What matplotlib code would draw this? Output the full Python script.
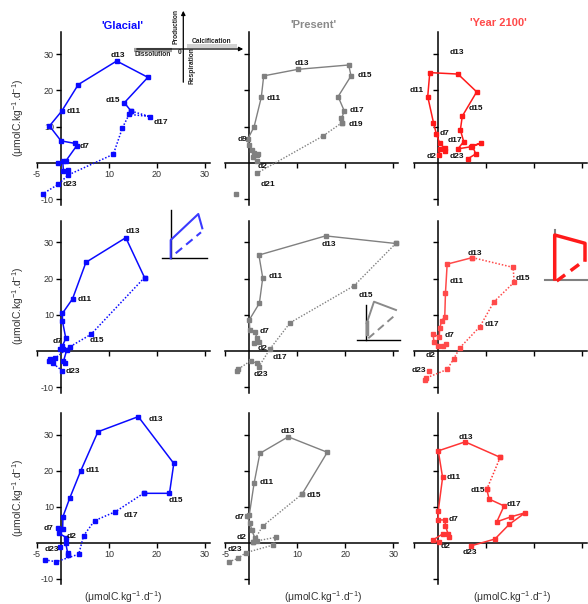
import matplotlib
matplotlib.use('Agg')
import matplotlib.pyplot as plt

plt.rcParams['font.family'] = ['Liberation Sans', 'DejaVu Sans']
plt.rcParams['mathtext.fontset'] = 'custom'
plt.rcParams['mathtext.rm'] = 'Liberation Sans'
plt.rcParams['mathtext.it'] = 'Liberation Sans:italic'
plt.rcParams['mathtext.bf'] = 'Liberation Sans:bold'
plt.rcParams['axes.unicode_minus'] = False

# ---- data (x = calcification, y = production) ----
scenarios = ["'Glacial'", "'Present'", "'Year 2100'"]

# Glacial
glacial_1_solid = [(1.5, -1.9), (0.5, -2.1), (0.35, 0.55), (-0.6, -0.1), (1.0, 0.55), (3.3, 4.8), (2.9, 5.4),
                   (0.0, 6.1), (-2.4, 10.2), (0.15, 14.3), (3.6, 21.6), (11.6, 28.1), (18.1, 23.6),
                   (13.2, 16.6), (14.6, 14.3)]
glacial_1_dotted = [(14.6, 14.3), (18.5, 12.8), (14.2, 13.4), (12.8, 9.7), (10.9, 2.4), (1.5, -3.3),
                    (-0.6, -5.9), (-3.8, -8.5)]
glacial_1_labels = [('d13', 11.9, 29.5), ('d11', 2.6, 14.3), ('d15', 10.9, 17.2), ('d17', 20.8, 11.1),
                    ('d7', 5.0, 4.5), ('d23', 1.9, -5.8)]

glacial_2_solid = [(0.8, -3.4), (0.5, -2.9), (1.2, 0.3), (0.5, 0.5), (-0.2, 0.5), (0.3, 1.4), (1.0, 3.5),
                   (0.3, 8.3), (0.3, 10.4), (2.4, 14.4), (5.2, 24.5), (13.5, 31.3), (17.4, 20.3)]
glacial_2_dotted = [(17.4, 20.3), (6.25, 4.6), (1.9, 1.2), (-1.25, -2.0), (-2.3, -2.3), (-2.6, -2.9),
                    (-1.7, -3.4), (0.3, -5.5)]
glacial_2_labels = [('d13', 14.9, 33.0), ('d11', 5.0, 14.1), ('d15', 7.4, 2.8), ('d7', -0.8, 2.6),
                    ('d23', 2.4, -5.7)]

glacial_3_solid = [(1.5, -3.3), (1.4, -2.9), (1.0, -0.1), (1.1, 1.5), (-0.4, 2.7), (-0.6, 4.1), (0.35, 3.8),
                   (0.4, 7.3), (1.8, 12.4), (4.1, 20.0), (7.7, 30.9), (16.1, 35.1), (23.5, 22.1),
                   (22.6, 13.8), (17.2, 13.8)]
glacial_3_dotted = [(17.2, 13.8), (11.35, 8.7), (7.0, 6.2), (4.7, 2.0), (3.7, -3.1), (-1.0, -5.2),
                    (-3.3, -4.7)]
glacial_3_extra = [(-0.2, -1.0)]
glacial_3_labels = [('d13', 19.7, 34.4), ('d11', 6.6, 20.0), ('d15', 23.9, 11.7), ('d17', 14.5, 7.6),
                    ('d7', -2.6, 4.1), ('d2', 2.3, 1.9), ('d23', -1.9, -1.8)]

# Present
present_1_solid = [(1.5, 0.55), (0.8, 1.7), (1.6, 2.2), (1.0, 2.7), (1.75, 2.5), (0.55, 3.6), (-0.1, 5.0),
                   (-0.35, 6.5), (1.0, 10.0), (2.5, 18.1), (3.0, 24.0), (10.1, 25.8), (20.7, 27.0),
                   (21.2, 24.0), (18.5, 18.3), (19.8, 14.3), (19.2, 12.3), (19.3, 11.1)]
present_1_dotted = [(19.3, 11.1), (15.3, 7.4), (1.6, -2.8)]
present_1_extra = [(-2.8, -8.6)]
present_1_labels = [('d13', 11.0, 27.5), ('d15', 24.0, 24.1), ('d11', 5.1, 17.8), ('d17', 22.4, 14.6),
                    ('d19', 22.1, 10.5), ('d9', -1.5, 6.5), ('d2', 2.85, -1.0), ('d21', 3.8, -5.8)]

present_2_solid = [(1.0, 2.1), (2.1, 2.6), (1.6, 3.5), (1.2, 5.3), (0.1, 5.8), (0.0, 8.6), (2.1, 13.2),
                   (2.8, 20.2), (2.0, 26.5), (15.9, 31.8), (30.5, 29.7)]
present_2_dotted = [(30.5, 29.7), (21.8, 18.0), (8.5, 7.8), (4.3, 0.55), (2.0, -4.3), (1.6, -3.4),
                    (0.3, -2.7), (-2.3, -5.0), (-2.5, -5.5)]
present_2_labels = [('d13', 16.5, 29.5), ('d11', 5.4, 20.5), ('d15', 24.2, 15.2), ('d7', 3.2, 5.5),
                    ('d2', 2.85, 0.7), ('d17', 6.3, -1.8), ('d23', 2.5, -6.4)]

present_3_solid = [(1.5, 0.65), (0.85, 0.4), (1.2, 1.3), (0.5, 3.6), (0.15, 5.5), (-0.5, 7.5), (0.0, 7.8),
                   (1.0, 16.6), (2.2, 24.9), (8.1, 29.5), (16.25, 25.2), (11.0, 13.6)]
present_3_dotted = [(11.0, 13.6), (2.8, 4.7), (0.85, 0.4), (5.6, 1.6), (5.0, -0.55), (-0.75, -2.7),
                    (-2.4, -4.3), (-4.2, -5.2)]
present_3_labels = [('d13', 8.1, 31.1), ('d11', 3.6, 16.9), ('d15', 13.5, 13.2), ('d7', -2.1, 7.1),
                    ('d2', -1.6, 1.5), ('d23', -3.0, -1.75)]

# Year 2100
future_1_solid = [(0.3, 2.2), (0.4, 3.8), (1.6, 3.4), (1.5, 4.0), (0.4, 5.4), (-0.3, 8.0), (-0.9, 11.1),
                  (-2.1, 18.3), (-1.67, 24.9), (4.2, 24.5), (8.1, 19.6), (5.1, 12.9), (4.7, 9.1),
                  (5.4, 5.9), (4.2, 3.9), (7.0, 4.5), (8.9, 5.4), (7.2, 4.8), (7.9, 2.5), (6.3, 1.2)]
future_1_labels = [('d13', 3.9, 30.5), ('d11', -4.4, 20.1), ('d15', 7.9, 15.0), ('d7', 1.5, 8.0),
                   ('d17', 3.5, 6.3), ('d2', -1.2, 1.9), ('d23', 3.9, 1.9)]

future_2_solid = [(1.8, 1.8), (1.0, 1.5), (0.1, 1.5), (-0.8, 2.6), (-1.0, 4.6), (0.3, 4.0), (0.4, 6.4),
                  (0.8, 8.3), (1.45, 9.5), (1.6, 16.1), (1.95, 24.0), (7.2, 25.8)]
future_2_dotted = [(7.2, 25.8), (15.7, 23.1), (15.9, 19.0), (11.7, 13.6), (8.75, 6.7), (4.6, 0.9),
                   (3.3, -2.2), (1.95, -5.1), (-2.5, -7.5), (-2.7, -8.0)]
future_2_extra = [(-1.9, -5.5)]
future_2_labels = [('d13', 7.7, 27.0), ('d11', 3.9, 19.1), ('d15', 17.8, 19.9), ('d17', 11.2, 7.4),
                   ('d7', 2.4, 4.4), ('d2', -1.5, -1.3), ('d23', -3.9, -5.5)]

future_3_solid = [(0.35, 0.2), (-1.05, 0.8), (1.0, 2.5), (2.35, 1.75), (2.15, 2.5), (1.6, 4.7), (1.5, 6.4),
                  (0.1, 6.4), (0.1, 9.0), (1.0, 18.2), (0.1, 25.6), (5.7, 28.1), (13.0, 23.8)]
future_3_dotted = [(13.0, 23.8), (10.2, 14.9)]
future_3_solid2 = [(10.2, 14.9), (10.7, 12.2), (13.8, 10.3), (12.3, 5.9), (15.3, 7.3), (18.2, 8.4),
                   (14.9, 5.2), (11.9, 1.1), (6.9, -0.8)]
future_3_labels = [('d13', 5.9, 29.2), ('d11', 3.4, 18.2), ('d15', 8.25, 14.7), ('d17', 15.75, 10.75),
                   ('d7', 3.3, 6.4), ('d2', 1.7, -1.0), ('d23', 6.7, -2.6)]

x_ticks = [-5, 10, 20, 30]
y_ticks = [-10, 10, 20, 30]
unit_label = r'($\mathregular{\mu}$molC.kg$^{\mathregular{-1}}$.d$^{\mathregular{-1}}$)'

# panel table: (row, col, colour, solid lines, dotted lines, loose points, labels)
panels = [
    (0, 0, '#0a0aff', [glacial_1_solid], [glacial_1_dotted], [], glacial_1_labels),
    (1, 0, '#0a0aff', [glacial_2_solid], [glacial_2_dotted], [], glacial_2_labels),
    (2, 0, '#0a0aff', [glacial_3_solid], [glacial_3_dotted], glacial_3_extra, glacial_3_labels),
    (0, 1, '#808080', [present_1_solid], [present_1_dotted], present_1_extra, present_1_labels),
    (1, 1, '#808080', [present_2_solid], [present_2_dotted], [], present_2_labels),
    (2, 1, '#808080', [present_3_solid], [present_3_dotted], [], present_3_labels),
    (0, 2, '#ff1a1a', [future_1_solid], [], [], future_1_labels),
    (1, 2, '#ff4a4a', [future_2_solid], [future_2_dotted], future_2_extra, future_2_labels),
    (2, 2, '#ff3535', [future_3_solid, future_3_solid2], [future_3_dotted], [], future_3_labels),
]

# ---- layout (pixels) ----
W, H = 588, 604
col_x0 = [61, 249.3, 437.8]      # pixel x of the y axis in each column
row_y0 = [163, 351, 543]         # pixel y of the x axis in each row
row_sy = [3.63, 3.62, 3.6]       # pixels per unit in y
SX = 4.8                         # pixels per unit in x
XLIM = (-5.6, 31.5)
YLIM = (-12.5, 37)

fig = plt.figure(figsize=(W / 100, H / 100), dpi=100)

for row, col, color, solids, dotteds, extras, labels in panels:
    sy = row_sy[row]
    left = col_x0[col] + XLIM[0] * SX
    width = (XLIM[1] - XLIM[0]) * SX
    top = row_y0[row] - YLIM[1] * sy
    height = (YLIM[1] - YLIM[0]) * sy
    ax = fig.add_axes([left / W, 1 - (top + height) / H, width / W, height / H])
    ax.set_xlim(XLIM)
    ax.set_ylim(YLIM)
    ax.patch.set_alpha(0)
    for s in ['top', 'right']:
        ax.spines[s].set_visible(False)
    ax.spines['left'].set_position(('data', 0))
    ax.spines['bottom'].set_position(('data', 0))
    ax.spines['left'].set_bounds(-11.5, 36)
    ax.spines['bottom'].set_bounds(-5, 31)
    for s in ['left', 'bottom']:
        ax.spines[s].set_linewidth(1.1)
    ax.set_xticks(x_ticks)
    ax.set_yticks(y_ticks)
    ax.tick_params(direction='out', length=3.5, width=1, pad=1.5, labelsize=6.5, labelcolor='#333333')
    show_x = (row == 0 and col == 0) or (row == 2 and col < 2)
    if not show_x:
        ax.set_xticklabels([])
    if col != 0:
        ax.set_yticklabels([])

    ms = 3.0 if col == 1 else 3.4
    lw = 1.0 if col == 1 else 1.1
    for pts in solids:
        ax.plot([p[0] for p in pts], [p[1] for p in pts], '-', color=color, lw=lw,
                marker='s', ms=ms, clip_on=False, zorder=3)
    for pts in dotteds:
        ax.plot([p[0] for p in pts], [p[1] for p in pts], linestyle=(0, (1, 1.2)), color=color, lw=lw,
                marker='s', ms=ms, clip_on=False, zorder=3)
    for pts in extras:
        ax.plot([pts[0]], [pts[1]], 's', color=color, ms=ms, clip_on=False, zorder=3)
    for name, lx, ly in labels:
        ax.text(lx, ly, name, ha='center', va='center', fontsize=6, fontweight='bold',
                color='#111111', zorder=4)

# titles
fig.text(122 / W, 1 - 26 / H, scenarios[0], ha='center', va='center', fontsize=8, fontweight='bold',
         color='#0a0aff')
fig.text(313 / W, 1 - 25 / H, scenarios[1], ha='center', va='center', fontsize=8, fontweight='bold',
         color='#8a8a8a')
fig.text(498 / W, 1 - 23 / H, scenarios[2], ha='center', va='center', fontsize=8, fontweight='bold',
         color='#ff4a4a')

# axis labels
for yc in [117.5, 306, 498]:
    fig.text(18 / W, 1 - yc / H, unit_label, rotation=90, ha='center', va='center', fontsize=7.5,
             color='#333333')
for xc in [123, 323, 512]:
    fig.text(xc / W, 1 - 597 / H, unit_label, ha='center', va='center', fontsize=7.5, color='#333333')

# ---- overlay: key diagram and small insets, in pixel coordinates ----
ov = fig.add_axes([0, 0, 1, 1], zorder=10)
ov.set_xlim(0, W)
ov.set_ylim(H, 0)
ov.axis('off')
ov.patch.set_alpha(0)

ov.add_patch(plt.Rectangle((187, 44), 50, 3.5, color='#d2d2d2', lw=0))
ov.plot([134, 172], [49.6, 49.6], color='#a0a0a0', lw=3, solid_capstyle='butt')
ov.annotate('', xy=(246, 49), xytext=(134, 49),
            arrowprops=dict(arrowstyle='-|>', color='black', lw=0.9, mutation_scale=6))
ov.annotate('', xy=(183.3, 8), xytext=(183.3, 85),
            arrowprops=dict(arrowstyle='-|>', color='black', lw=0.9, mutation_scale=6))
kf = dict(fontsize=4.8, fontweight='bold', color='#222222', ha='center', va='center')
ov.text(176, 26, 'Production', rotation=90, **kf)
ov.text(191.5, 66, 'Respiration', rotation=90, **kf)
ov.text(153, 54.5, 'Dissolution', **kf)
ov.text(211.5, 41.5, 'Calcification', **kf)
ov.text(180, 52.5, '0', **kf)

# inset, glacial
ov.plot([170.7, 170.7], [210, 258.3], color='black', lw=1)
ov.plot([162.3, 207.3], [258.3, 258.3], color='black', lw=1)
ov.plot([170.7, 170.7, 198.3, 202.3], [258.3, 240, 214, 228.3], color='#3a3aff', lw=1.5)
ov.plot([175.7, 201], [253.3, 232.3], color='#3a3aff', lw=1.5, linestyle=(0, (4, 2.5)))

# inset, present
ov.plot([366, 366], [305, 340], color='black', lw=1)
ov.plot([356.7, 400], [340, 340], color='black', lw=1)
ov.plot([366.7, 374, 396], [323.3, 301.7, 310], color='#8a8a8a', lw=1.4)
ov.plot([366.7, 366.7], [322, 334], color='#8a8a8a', lw=2.5)
ov.plot([368.3, 393.3], [338.3, 316.7], color='#8a8a8a', lw=1.4, linestyle=(0, (4, 2.5)))

# inset, year 2100
ov.plot([554.7, 554.7], [230, 280], color='#808080', lw=1.5)
ov.plot([545, 588], [280, 280], color='#808080', lw=1.5)
ov.plot([554.7, 554.7, 585, 585], [279, 235, 243.3, 260], color='#ff1a1a', lw=2.5)
ov.plot([556.7, 585], [281, 260], color='#ff1a1a', lw=2.5, linestyle=(0, (3, 2)))

fig.savefig('out.png', dpi=100)
